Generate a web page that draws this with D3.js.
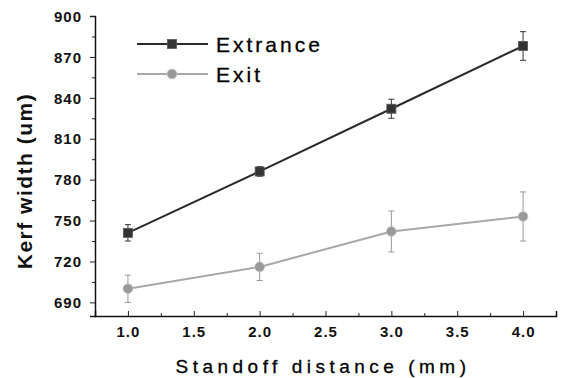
<!DOCTYPE html>
<html><head><meta charset="utf-8">
<script src="https://cdn.jsdelivr.net/npm/d3@7"></script>
<style>body{margin:0;background:#fff}svg{display:block}</style>
</head><body>
<script>
const distances = [1.0, 2.0, 3.0, 4.0];
const extranceValues = [741, 786, 832, 878];
const extranceErrors = [6, 3.5, 7, 10.5];
const exitValues = [700, 716, 742, 753];
const exitErrors = [10, 10, 15, 18];
const xTicks = [1.0, 1.5, 2.0, 2.5, 3.0, 3.5, 4.0];
const yTicks = [690, 720, 750, 780, 810, 840, 870, 900];
const seriesNames = ["Extrance", "Exit"];

const W = 564, H = 378;
const svg = d3.select("body").append("svg").attr("width", W).attr("height", H);
const x = d3.scaleLinear().domain([0.75, 4.25]).range([95, 556]);
const y = d3.scaleLinear().domain([680, 900]).range([316, 16]);
const font = "Arial, 'Liberation Sans', sans-serif";

// axes
const xAxis = svg.append("g").attr("transform", "translate(0,316)")
  .call(d3.axisBottom(x).tickValues(xTicks).tickFormat(d3.format(".1f")).tickSize(-5).tickPadding(10));
const xMinor = svg.append("g").attr("transform", "translate(0,316)")
  .call(d3.axisBottom(x).tickValues(d3.range(1.25, 4.01, 0.5)).tickFormat("").tickSize(-3));
const yAxis = svg.append("g").attr("transform", "translate(95,0)")
  .call(d3.axisLeft(y).tickValues(yTicks).tickSize(5).tickPadding(8));
const yMinor = svg.append("g").attr("transform", "translate(95,0)")
  .call(d3.axisLeft(y).tickValues(d3.range(705, 900, 30)).tickFormat("").tickSize(3));
[xAxis, xMinor, yAxis, yMinor].forEach(g => {
  g.select(".domain").attr("stroke", "#111").attr("stroke-width", 1.5);
  g.selectAll(".tick line").attr("stroke", "#222");
  g.selectAll("text").attr("font-family", font).attr("font-weight", "bold").attr("font-size", 15)
    .attr("letter-spacing", 1).attr("fill", "#111");
});
yAxis.selectAll("text").attr("dy", "0.35em");
xMinor.select(".domain").remove(); yMinor.select(".domain").remove();

// titles
svg.append("text").attr("transform", "translate(32,181) rotate(-90)").attr("text-anchor", "middle")
  .attr("font-family", font).attr("font-weight", "bold").attr("font-size", 21).attr("letter-spacing", 1.5)
  .attr("fill", "#111").text("Kerf width (um)");
svg.append("text").attr("x", 323).attr("y", 373).attr("text-anchor", "middle")
  .attr("font-family", font).attr("font-size", 19).attr("letter-spacing", 4.5).attr("fill", "#000")
  .attr("stroke", "#000").attr("stroke-width", 0.3).text("Standoff distance (mm)");

const series = [
  {name: seriesNames[0], vals: extranceValues, errs: extranceErrors, color: "#333", lineColor: "#2a2a2a", shape: "square"},
  {name: seriesNames[1], vals: exitValues, errs: exitErrors, color: "#999", lineColor: "#a8a8a8", shape: "circle"}
];

const line = d3.line().x((d, i) => x(distances[i])).y(d => y(d));

function marker(g, cx, cy, s) {
  if (s.shape === "square") {
    g.append("rect").attr("x", cx - 4.5).attr("y", cy - 4.5).attr("width", 9).attr("height", 9)
      .attr("fill", s.color).attr("stroke", "#555").attr("stroke-width", 0.8);
  } else {
    g.append("circle").attr("cx", cx).attr("cy", cy).attr("r", 4.8)
      .attr("fill", s.color).attr("stroke", "#bbb").attr("stroke-width", 0.8);
  }
}

series.forEach(s => {
  const g = svg.append("g");
  s.vals.forEach((v, i) => {
    const cx = x(distances[i]);
    g.append("line").attr("x1", cx).attr("x2", cx).attr("y1", y(v - s.errs[i])).attr("y2", y(v + s.errs[i]))
      .attr("stroke", s.color).attr("stroke-width", 1);
    [v - s.errs[i], v + s.errs[i]].forEach(e => {
      g.append("line").attr("x1", cx - 3).attr("x2", cx + 3).attr("y1", y(e)).attr("y2", y(e))
        .attr("stroke", s.color).attr("stroke-width", 1);
    });
  });
  g.append("path").datum(s.vals).attr("d", line).attr("fill", "none")
    .attr("stroke", s.lineColor).attr("stroke-width", 2);
  s.vals.forEach((v, i) => marker(g, x(distances[i]), y(v), s));
});

// legend
series.forEach((s, i) => {
  const ly = 44 + i * 30;
  const g = svg.append("g");
  g.append("line").attr("x1", 137).attr("x2", 208).attr("y1", ly).attr("y2", ly)
    .attr("stroke", s.lineColor).attr("stroke-width", 2);
  marker(g, 172, ly, s);
  g.append("text").attr("x", 216).attr("y", ly + 8).attr("font-family", font).attr("font-size", 21)
    .attr("letter-spacing", 3).attr("fill", "#000").attr("stroke", "#000").attr("stroke-width", 0.3)
    .text(s.name);
});
</script>
</body></html>
